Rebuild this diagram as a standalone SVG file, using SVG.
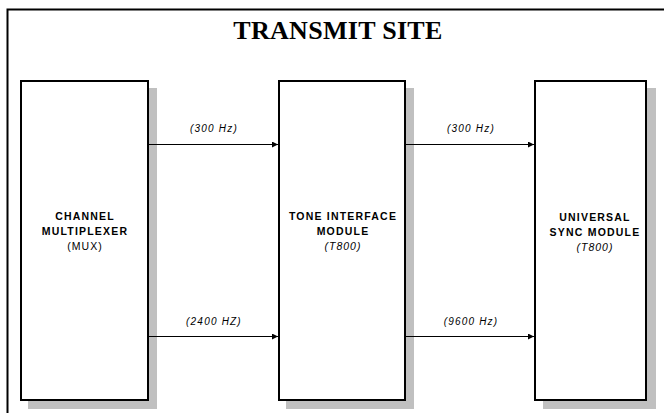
<svg xmlns="http://www.w3.org/2000/svg" width="664" height="413" viewBox="0 0 664 413">
<style>
.shadow{fill:#c0c0c0;stroke:none}
.box{fill:#fff;stroke:#000;stroke-width:2}
.title{font-family:"Liberation Serif","Times New Roman",serif;font-weight:bold;font-size:26px;letter-spacing:0.3px;text-anchor:middle}
.nb{font-family:"Liberation Sans",Arial,sans-serif;font-weight:bold;font-size:10.5px;letter-spacing:1.2px;text-anchor:middle}
.nr{font-family:"Liberation Sans",Arial,sans-serif;font-size:10.5px;letter-spacing:1px;text-anchor:middle}
.ni{font-family:"Liberation Sans",Arial,sans-serif;font-style:italic;font-size:10.5px;letter-spacing:1px;text-anchor:middle}
.lbl{font-family:"Liberation Sans",Arial,sans-serif;font-style:italic;font-size:10px;letter-spacing:1.2px;text-anchor:middle}
.conn{stroke:#000;stroke-width:1;fill:none}
</style>
<defs>
<marker id="ah" markerWidth="6" markerHeight="6" refX="6" refY="3" orient="auto" markerUnits="userSpaceOnUse">
<path d="M0,0 L6,3 L0,6 Z" fill="#000"/>
</marker>
</defs>
<rect x="0" y="0" width="664" height="413" fill="#fff"/>
<rect x="7.5" y="9.5" width="700" height="450" fill="none" stroke="#000" stroke-width="2"/>
<text class="title" x="338" y="38.5">TRANSMIT SITE</text>
<g id="mux">
<rect class="shadow" x="28" y="88" width="129" height="321"/>
<rect class="box" x="21" y="81" width="127" height="319"/>
<text class="nb" x="85" y="220">CHANNEL</text>
<text class="nb" x="85" y="235">MULTIPLEXER</text>
<text class="nr" x="85" y="250">(MUX)</text>
</g>
<g id="tim">
<rect class="shadow" x="286" y="88" width="128" height="321"/>
<rect class="box" x="279" y="81" width="126" height="319"/>
<text class="nb" x="343" y="220">TONE INTERFACE</text>
<text class="nb" x="343" y="235">MODULE</text>
<text class="ni" x="343" y="250">(T800)</text>
</g>
<g id="usm">
<rect class="shadow" x="543" y="88" width="113" height="321"/>
<rect class="box" x="535" y="81" width="111" height="319"/>
<text class="nb" x="595" y="221">UNIVERSAL</text>
<text class="nb" x="595" y="236">SYNC MODULE</text>
<text class="ni" x="595" y="251">(T800)</text>
</g>
<g id="connectors">
<line class="conn" x1="149" y1="144.5" x2="278" y2="144.5" marker-end="url(#ah)"/>
<line class="conn" x1="149" y1="336.5" x2="278" y2="336.5" marker-end="url(#ah)"/>
<line class="conn" x1="406" y1="144.5" x2="534" y2="144.5" marker-end="url(#ah)"/>
<line class="conn" x1="406" y1="336.5" x2="534" y2="336.5" marker-end="url(#ah)"/>
<text class="lbl" x="214" y="132">(300 Hz)</text>
<text class="lbl" x="214" y="325">(2400 HZ)</text>
<text class="lbl" x="471" y="132">(300 Hz)</text>
<text class="lbl" x="471" y="325">(9600 Hz)</text>
</g>
</svg>
